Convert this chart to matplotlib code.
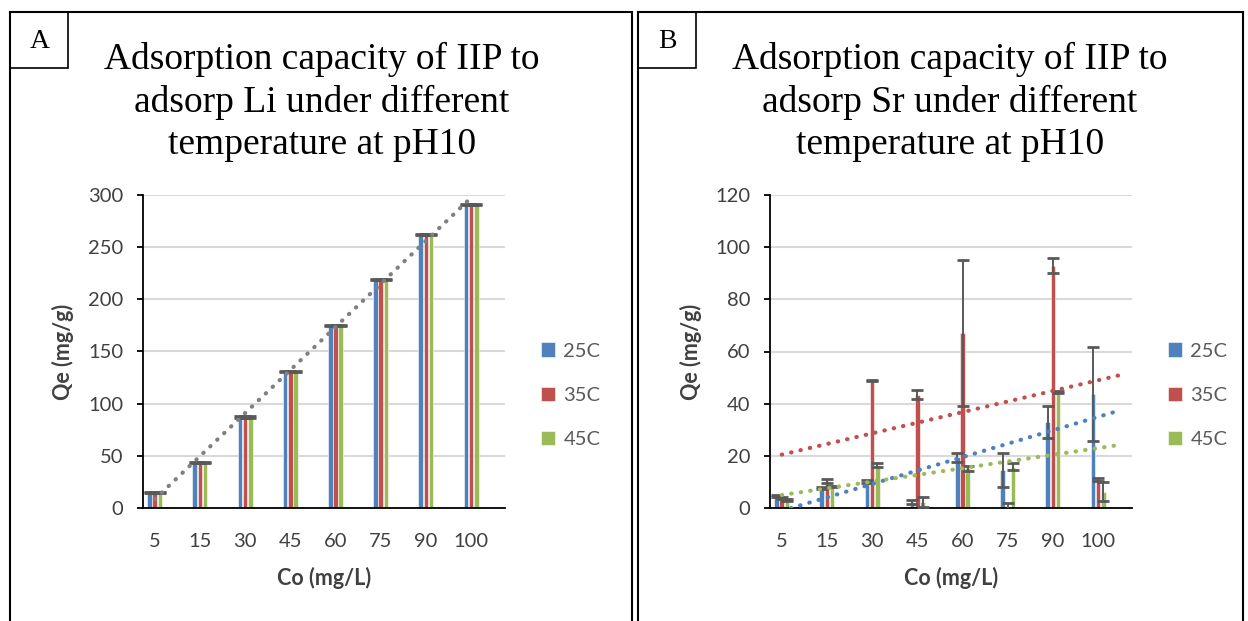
import matplotlib
matplotlib.use("Agg")
import matplotlib.pyplot as plt
import numpy as np
from matplotlib.lines import Line2D
from matplotlib.patches import Rectangle

# Data
CONC = ["5", "15", "30", "45", "60", "75", "90", "100"]
TEMPS = ["25C", "35C", "45C"]
COLORS = ["#4F81BD", "#C0504D", "#9BBB59"]

# Li uptake (mg/g)
LI_25 = [14.5, 43.5, 87.2, 131.0, 174.8, 218.6, 262.3, 291.2]
LI_35 = [14.5, 43.5, 87.2, 131.0, 174.8, 218.6, 262.3, 291.2]
LI_45 = [14.5, 43.5, 87.2, 131.0, 174.8, 218.6, 262.3, 291.2]
LI_25_ERR = [0.4, 0.4, 0.5, 0.5, 0.5, 0.5, 0.5, 0.6]
LI_35_ERR = [0.4, 0.4, 0.5, 0.5, 0.5, 0.5, 0.5, 0.6]
LI_45_ERR = [0.4, 0.4, 0.5, 0.5, 0.5, 0.5, 0.5, 0.6]

# Sr uptake (mg/g)
SR_25 = [4.6, 7.5, 10.2, 2.3, 19.4, 14.5, 33.1, 43.8]
SR_35 = [3.8, 10.3, 48.8, 43.5, 67.0, 0.5, 92.9, 11.0]
SR_45 = [3.0, 8.2, 16.4, 2.3, 15.2, 15.9, 44.6, 6.2]
SR_25_ERR = [0.3, 0.4, 0.5, 0.8, 1.6, 6.5, 6.1, 18.1]
SR_35_ERR = [0.4, 0.7, 0.3, 1.7, 28.0, 1.3, 2.8, 0.5]
SR_45_ERR = [0.3, 0.3, 0.8, 2.0, 1.0, 1.3, 0.4, 3.6]

W, H = 1248, 621
ERR_COLOR = "#595959"
TEXT_COLOR = "#595959"
SANS = "Lato"
SERIF = "Liberation Serif"


def fx(px):
    return px / W


def fy(py):
    return 1 - py / H


def draw_panel(fig, left_px, right_px, ylim, yticks,
               series, errors, trend_idx, trend_colors, trend_end):
    ax = fig.add_axes([fx(left_px), fy(508), fx(right_px - left_px), (508 - 195) / H])
    x = np.arange(1, len(CONC) + 1)
    width = 0.1
    offsets = [-0.115, 0.0, 0.115]

    for vals, err, color, off, label in zip(series, errors, COLORS, offsets, TEMPS):
        ax.bar(x + off, vals, width=width, color=color, label=label, zorder=2,
               edgecolor="white", linewidth=0.4)
        ax.errorbar(x + off, vals, yerr=err, fmt="none", ecolor=ERR_COLOR,
                    elinewidth=1.4, capsize=4.5, capthick=2.0, zorder=3)

    # linear trendlines
    for idx, tcolor in zip(trend_idx, trend_colors):
        k, b = np.polyfit(x, series[idx], 1)
        xt = np.linspace(1, trend_end, 50)
        ax.plot(xt, k * xt + b, color=tcolor, linewidth=3,
                linestyle=(0, (0.1, 2.2)), dash_capstyle="round", zorder=4)

    ax.set_xlim(0.74, 8.75)
    ax.set_ylim(*ylim)
    ax.set_yticks(yticks)
    ax.set_xticks(x)
    ax.set_xticklabels(CONC)
    ax.grid(axis="y", color="#d9d9d9", linewidth=1.5, zorder=0)
    ax.set_axisbelow(True)
    for s in ["top", "right"]:
        ax.spines[s].set_visible(False)
    ax.spines["left"].set_linewidth(1.3)
    ax.spines["bottom"].set_linewidth(1.3)
    ax.tick_params(axis="y", length=4, width=1.3, pad=10, labelsize=14.5,
                   labelcolor="#404040")
    ax.tick_params(axis="x", length=0, pad=18, labelsize=14.5, labelcolor="#404040")
    for lab in ax.get_xticklabels() + ax.get_yticklabels():
        lab.set_fontfamily(SANS)

    ax.set_xlabel("Co (mg/L)", fontsize=15.5, fontweight="bold", family=SANS,
                  color="#404040", labelpad=12)
    ax.set_ylabel("Qe (mg/g)", fontsize=15.5, fontweight="bold", family=SANS,
                  color="#404040", labelpad=10)

    leg = ax.legend(loc="center left", bbox_to_anchor=(1.05, 0.36), frameon=False,
                    prop={"family": SANS, "size": 14.5}, handlelength=0.7,
                    handleheight=0.7, labelspacing=1.35, handletextpad=0.4)
    for t in leg.get_texts():
        t.set_color(TEXT_COLOR)
    return ax


fig = plt.figure(figsize=(W / 100, H / 100), dpi=100)

# panel frames with letter boxes
for l, r in [(10, 632), (638, 1243)]:
    for xs, ys in [([l, l], [12, 640]), ([r, r], [12, 640]), ([l, r], [12, 12])]:
        fig.add_artist(Line2D([fx(v) for v in xs], [fy(v) for v in ys],
                              color="black", linewidth=1.5))
    fig.add_artist(Rectangle((fx(l), fy(68)), fx(58), (68 - 12) / H, fill=False,
                             edgecolor="black", linewidth=1.2,
                             transform=fig.transFigure))

draw_panel(fig, 143, 505, (0, 300), range(0, 301, 50),
           [LI_25, LI_35, LI_45], [LI_25_ERR, LI_35_ERR, LI_45_ERR],
           [0], ["#808080"], 8.0)
draw_panel(fig, 770, 1132, (0, 120), range(0, 121, 20),
           [SR_25, SR_35, SR_45], [SR_25_ERR, SR_35_ERR, SR_45_ERR],
           [0, 1, 2], COLORS, 8.45)

titles = [
    (40, 322, "A", "Adsorption capacity of IIP to\nadsorp Li under different\ntemperature at pH10"),
    (667, 950, "B", "Adsorption capacity of IIP to\nadsorp Sr under different\ntemperature at pH10"),
]
for lx, tx, letter, title in titles:
    fig.text(fx(lx), fy(42), letter, ha="center", va="center", family=SERIF, fontsize=20)
    fig.text(fx(tx), fy(102), title, ha="center", va="center", family=SERIF,
             fontsize=27, linespacing=1.3)

fig.savefig("out.png", dpi=100)
